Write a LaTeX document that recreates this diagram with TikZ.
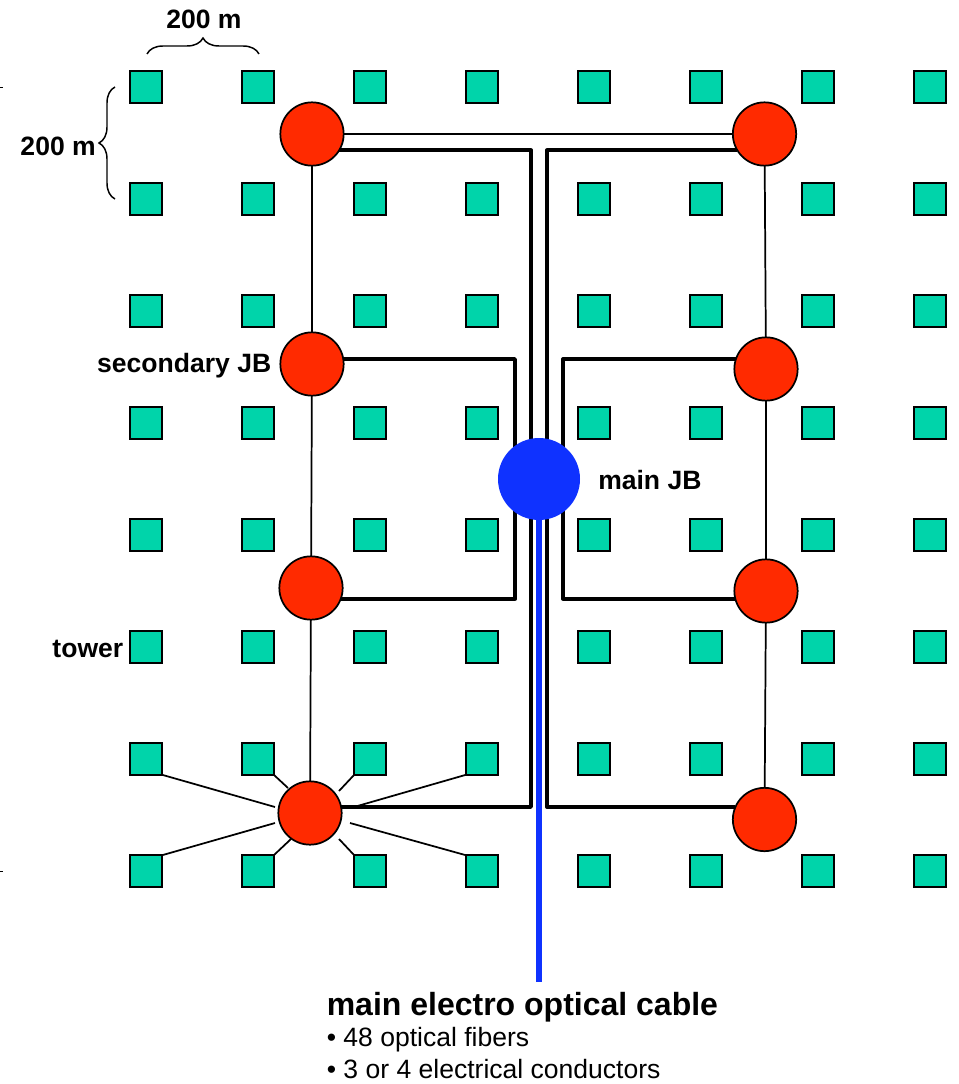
\documentclass[tikz,border=0pt]{standalone}
\usepackage{fontspec}
\setmainfont{Liberation Sans}
\usetikzlibrary{calc,decorations.pathreplacing}
\definecolor{towergreen}{RGB}{0,212,170}
\definecolor{jbred}{RGB}{255,42,0}
\definecolor{jbblue}{RGB}{15,50,255}
\tikzset{
  tower/.style={draw,fill=towergreen,line width=1.5pt,minimum size=23.5pt,inner sep=0pt,outer sep=0pt},
  secjb/.style={circle,draw,fill=jbred,line width=1.3pt,minimum size=47.5pt,inner sep=0pt,outer sep=0pt},
  mainjb/.style={circle,fill=jbblue,minimum size=61.5pt,inner sep=0pt,outer sep=0pt},
  thinline/.style={line width=1.3pt},
  trunk/.style={line width=2.8pt,line join=round},
  sizebrace/.style={line width=1.1pt,decorate,decoration={brace,amplitude=12pt,aspect=0.5}},
  lab/.style={font=\bfseries\fontsize{19.9}{23}\selectfont,inner sep=0pt},
  note/.style={font=\fontsize{19.9}{23}\selectfont,inner sep=0pt,anchor=base west}
}
\begin{document}
\begin{tikzpicture}[x=0.75pt,y=-0.75pt]
  \useasboundingbox (0,0) rectangle (958,1084);
  \foreach \col in {1,...,8}
    \foreach \row in {1,...,8}
      \node[tower] (t\col\row) at ({34+112*\col},{-25+112*\row}) {};

  \node[secjb] (jbl1) at (312,134) {};
  \node[secjb] (jbl2) at (312,364) {};
  \node[secjb] (jbl3) at (311,588) {};
  \node[secjb] (jbl4) at (310,813) {};
  \node[secjb] (jbr1) at (764.5,134) {};
  \node[secjb] (jbr2) at (766,369) {};
  \node[secjb] (jbr3) at (766,591) {};
  \node[secjb] (jbr4) at (764.5,819.5) {};

  \draw[thinline] (jbl1) -- (jbl2) (jbl2) -- (jbl3) (jbl3) -- (jbl4);
  \draw[thinline] (jbr1) -- (jbr2) (jbr2) -- (jbr3) (jbr3) -- (jbr4);
  \draw[thinline] (jbl1) -- (jbr1);

  \foreach \twr/\dx/\dy in {t17.south east/-35/-6,t27.south east/-22/-25,t37.south west/29/-22,t47.south west/44/-6,
                            t18.north east/-35/10,t28.north east/-19/26,t38.north west/29/26,t48.north west/40/10}
    \draw[thinline] (\twr) -- ($(jbl4)+(\dx,\dy)$);

  \coordinate (busl) at (531,479);
  \coordinate (busr) at (547,479);
  \coordinate (sidel) at (515,479);
  \coordinate (sider) at (563,479);
  \draw[trunk] (jbl1.-31) -| (busl) (jbl4.11) -| (busl);
  \draw[trunk] (jbr1.211) -| (busr) (jbr4.157) -| (busr);
  \draw[trunk] (jbl2.9) -| (sidel) (jbl3.-20) -| (sidel);
  \draw[trunk] (jbr2.162) -| (sider) (jbr3.194.5) -| (sider);

  \coordinate (cableend) at (539,982);
  \node[mainjb] (jbmain) at (539,479) {};
  \draw[line width=3.8pt,jbblue] (jbmain) -- (cableend);

  \coordinate (bracetl) at (147,54);
  \coordinate (bracetr) at (259,54);
  \coordinate (bracelt) at (115,87);
  \coordinate (bracelb) at (115,199);
  \draw[sizebrace] (bracetl) -- (bracetr);
  \draw[sizebrace] (bracelb) -- (bracelt);

  \coordinate (ticka) at (0,87.5);
  \coordinate (tickb) at (3,87.5);
  \coordinate (tickc) at (0,871.5);
  \coordinate (tickd) at (3,871.5);
  \draw[line width=0.8pt] (ticka) -- (tickb) (tickc) -- (tickd);

  \node[lab] (sizetop) at (204,19) {200 m};
  \node[lab,anchor=east] (sizeleft) at (96,146) {200 m};
  \node[lab,anchor=east] (seclabel) at (271.5,366) {secondary JB};
  \node[lab,anchor=east] (towerlabel) at (123.5,649) {tower};
  \node[lab,anchor=west] (mainlabel) at (598,480) {main JB};
  \node[note,font=\bfseries\fontsize{24}{28}\selectfont] (cabletitle) at (326.5,1015) {main electro optical cable};
  \node[note] (fibers) at (326.5,1046) {• 48 optical fibers};
  \node[note] (conductors) at (326.5,1078) {• 3 or 4 electrical conductors};
\end{tikzpicture}
\end{document}
